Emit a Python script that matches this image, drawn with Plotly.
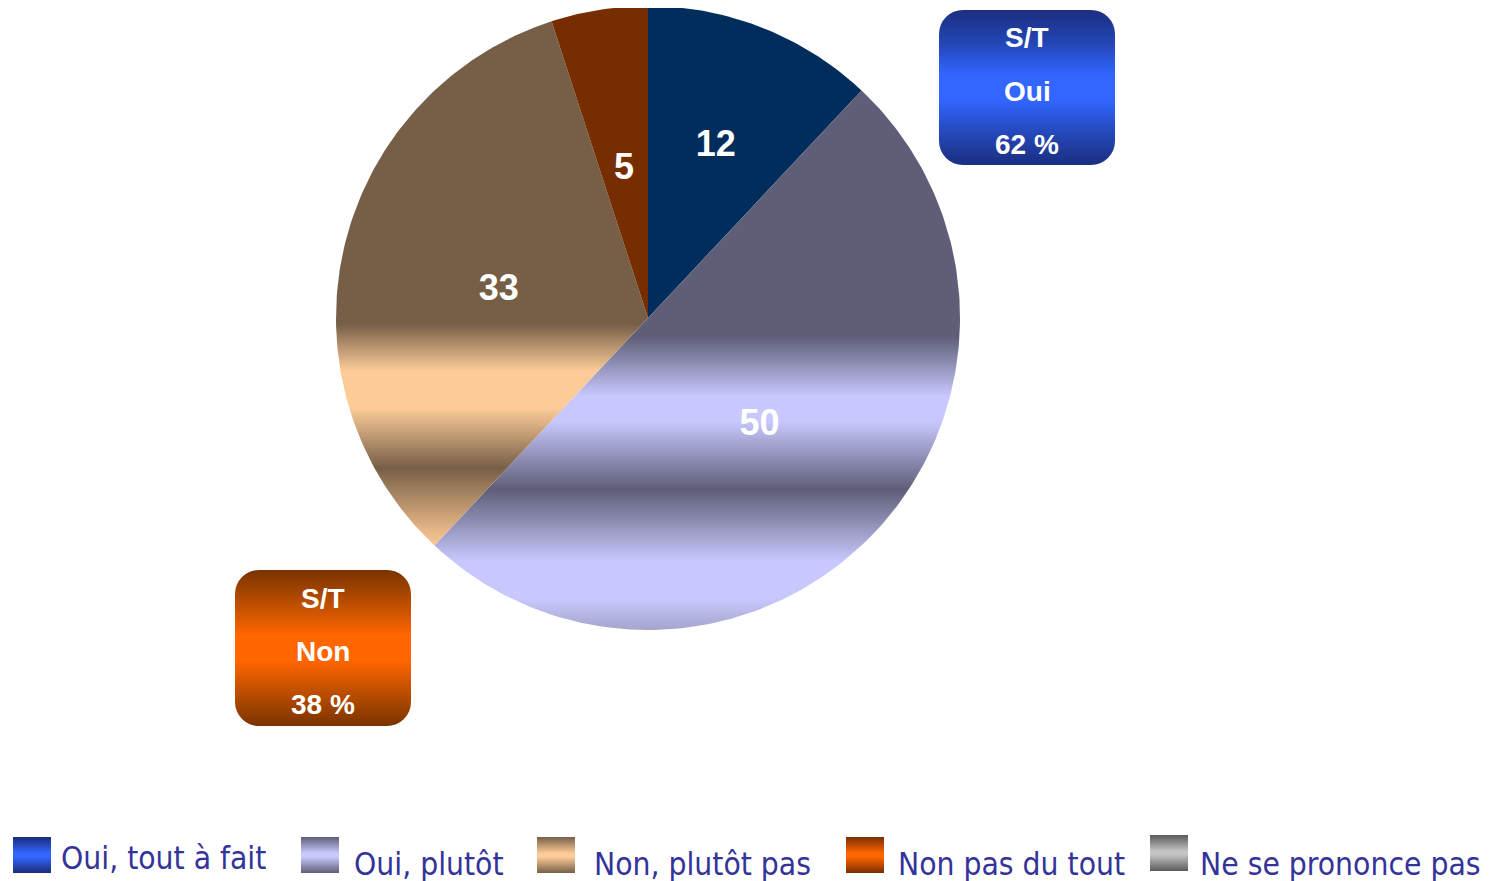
import base64
import numpy as np
import plotly.graph_objects as go

# ---------------- data ----------------
categories = ["Oui, tout à fait", "Oui, plutôt", "Non, plutôt pas",
              "Non pas du tout", "Ne se prononce pas"]
values = [12, 50, 33, 5, 0]
subtotal_names = ["Oui", "Non"]
subtotal_members = [[0, 1], [2, 3]]

# ---------------- layout constants (pixels of the page) ----------------
PAGE_W, PAGE_H = 1493, 881
OFF = 8                      # default body margin of the html page
W, H = PAGE_W - OFF, PAGE_H - OFF
CX, CY, R = 648, 318, 312    # pie centre / radius on the page

# ---------------- styles ----------------
NAVY = "#002D5B"
SLATE = "#5E5E78"
LAV = "#C8C8FE"
BROWN = "#775F47"
PEACH = "#FCCB98"
DKORANGE = "#762E00"

slice_styles = [
    dict(fillcolor=NAVY),
    dict(fillgradient=dict(type="vertical", start=-1, stop=1, colorscale=[
        [0.0, "#A4A4CC"], [0.05, LAV], [0.11, LAV], [0.225, SLATE],
        [0.335, LAV], [0.375, LAV], [0.47, SLATE], [1.0, SLATE]])),
    dict(fillgradient=dict(type="vertical", start=-1, stop=1, colorscale=[
        [0.0, PEACH], [0.13, PEACH], [0.16, "#E6B686"], [0.26, BROWN],
        [0.355, PEACH], [0.415, PEACH], [0.49, BROWN], [1.0, BROWN]])),
    dict(fillcolor=DKORANGE),
    dict(fillcolor="#8C8C8C"),
]
label_radius = [0.59, 0.49, 0.49, 0.49, 0.5]
label_dy = [0.0, -0.01, -0.02, -0.01, 0.0]   # small nudges of slice labels

legend_stops = [
    [(0, "#1A2C7A"), (0.45, "#3366FF"), (0.55, "#3366FF"), (1, "#1A2C7A")],
    [(0, SLATE), (0.45, LAV), (0.55, LAV), (1, SLATE)],
    [(0, BROWN), (0.45, PEACH), (0.55, PEACH), (1, BROWN)],
    [(0, "#7A2E00"), (0.45, "#FF6600"), (0.55, "#FF6600"), (1, "#7A2E00")],
    [(0, "#5A5A5A"), (0.45, "#C4C4C4"), (0.55, "#C4C4C4"), (1, "#5A5A5A")],
]
legend_icon_x = [13, 301, 537, 846, 1150]
legend_icon_y = [837, 837, 837, 837, 835]
legend_text_x = [59, 352, 592, 896, 1198]
legend_text_y = [858, 864, 864, 864, 864]
ICON_W, ICON_H = 38, 36

box_stops = [
    [(0, "#1B2E80"), (0.22, "#2447B8"), (0.42, "#3366FF"), (0.58, "#3366FF"),
     (0.8, "#2447B8"), (1, "#1B2E80")],
    [(0, "#7A3300"), (0.2, "#B84C00"), (0.42, "#FF6600"), (0.58, "#FF6600"),
     (0.8, "#B84C00"), (1, "#7A3300")],
]
box_pos = [(939, 10, 176, 155), (235, 570, 176, 156)]
box_line_offsets = [28, 81, 134]


def grad_svg(w, h, stops, rx=0):
    stop_xml = "".join(f'<stop offset="{o}" stop-color="{c}"/>' for o, c in stops)
    svg = (f'<svg xmlns="http://www.w3.org/2000/svg" width="{w}" height="{h}" '
           f'viewBox="0 0 {w} {h}" preserveAspectRatio="none"><defs>'
           f'<linearGradient id="g" x1="0" y1="0" x2="0" y2="1">{stop_xml}'
           f'</linearGradient></defs><rect x="0" y="0" width="{w}" height="{h}" '
           f'rx="{rx}" ry="{rx}" fill="url(#g)"/></svg>')
    return "data:image/svg+xml;base64," + base64.b64encode(svg.encode()).decode()


def px_x(x):
    return (x - OFF) / W


def px_y(y):
    return 1 - (y - OFF) / H


fig = go.Figure()

# ---------------- pie slices ----------------
total = sum(values)
cum = 0.0
lab_x, lab_y, lab_t = [], [], []
for i, v in enumerate(values):
    if v <= 0:
        continue
    a0 = 2 * np.pi * cum / total
    a1 = 2 * np.pi * (cum + v) / total
    cum += v
    th = np.linspace(a0, a1, max(int(400 * v / total), 8))
    xs = np.concatenate([[0], np.sin(th), [0]])
    ys = np.concatenate([[0], np.cos(th), [0]])
    fig.add_trace(go.Scatter(
        x=xs, y=ys, mode="lines", fill="toself",
        line=dict(width=0, color="rgba(0,0,0,0)"),
        hoverinfo="skip", name=categories[i], showlegend=False,
        **slice_styles[i]))
    am = (a0 + a1) / 2
    lab_x.append(label_radius[i] * np.sin(am))
    lab_y.append(label_radius[i] * np.cos(am) + label_dy[i])
    lab_t.append(f"<b>{v}</b>")

fig.add_trace(go.Scatter(
    x=lab_x, y=lab_y, mode="text", text=lab_t,
    textfont=dict(family="Liberation Sans, Arial", size=36, color="white"),
    hoverinfo="skip", showlegend=False, cliponaxis=False))

images = []
annotations = []

# ---------------- legend ----------------
for i, cat in enumerate(categories):
    images.append(dict(
        source=grad_svg(ICON_W, ICON_H, legend_stops[i]),
        xref="paper", yref="paper",
        x=px_x(legend_icon_x[i]), y=px_y(legend_icon_y[i]),
        sizex=ICON_W / W, sizey=ICON_H / H,
        xanchor="left", yanchor="top", sizing="stretch", layer="above"))
    annotations.append(dict(
        text=cat, xref="paper", yref="paper",
        x=px_x(legend_text_x[i]), y=px_y(legend_text_y[i]),
        xanchor="left", yanchor="middle", showarrow=False,
        font=dict(family="DejaVu Sans Condensed, DejaVu Sans", size=31.5,
                  color="#333399")))

# ---------------- subtotal boxes ----------------
for k, name in enumerate(subtotal_names):
    st = sum(values[j] for j in subtotal_members[k])
    bx, by, bw, bh = box_pos[k]
    images.append(dict(
        source=grad_svg(bw, bh, box_stops[k], rx=24),
        xref="paper", yref="paper",
        x=px_x(bx), y=px_y(by), sizex=bw / W, sizey=bh / H,
        xanchor="left", yanchor="top", sizing="stretch", layer="above"))
    for txt, off in zip(["S/T", name, f"{st} %"], box_line_offsets):
        annotations.append(dict(
            text=f"<b>{txt}</b>", xref="paper", yref="paper",
            x=px_x(bx + bw / 2), y=px_y(by + off),
            xanchor="center", yanchor="middle", showarrow=False,
            font=dict(family="Liberation Sans, Arial", size=28, color="white")))

fig.update_layout(
    width=W, height=H,
    margin=dict(l=0, r=0, t=0, b=0),
    paper_bgcolor="white", plot_bgcolor="white",
    showlegend=False,
    xaxis=dict(range=[-(CX - OFF) / R, (PAGE_W - CX) / R], visible=False,
               fixedrange=True),
    yaxis=dict(range=[-(PAGE_H - CY) / R, (CY - OFF) / R], visible=False,
               fixedrange=True),
    images=images,
    annotations=annotations,
)

fig.write_html("out.html")
